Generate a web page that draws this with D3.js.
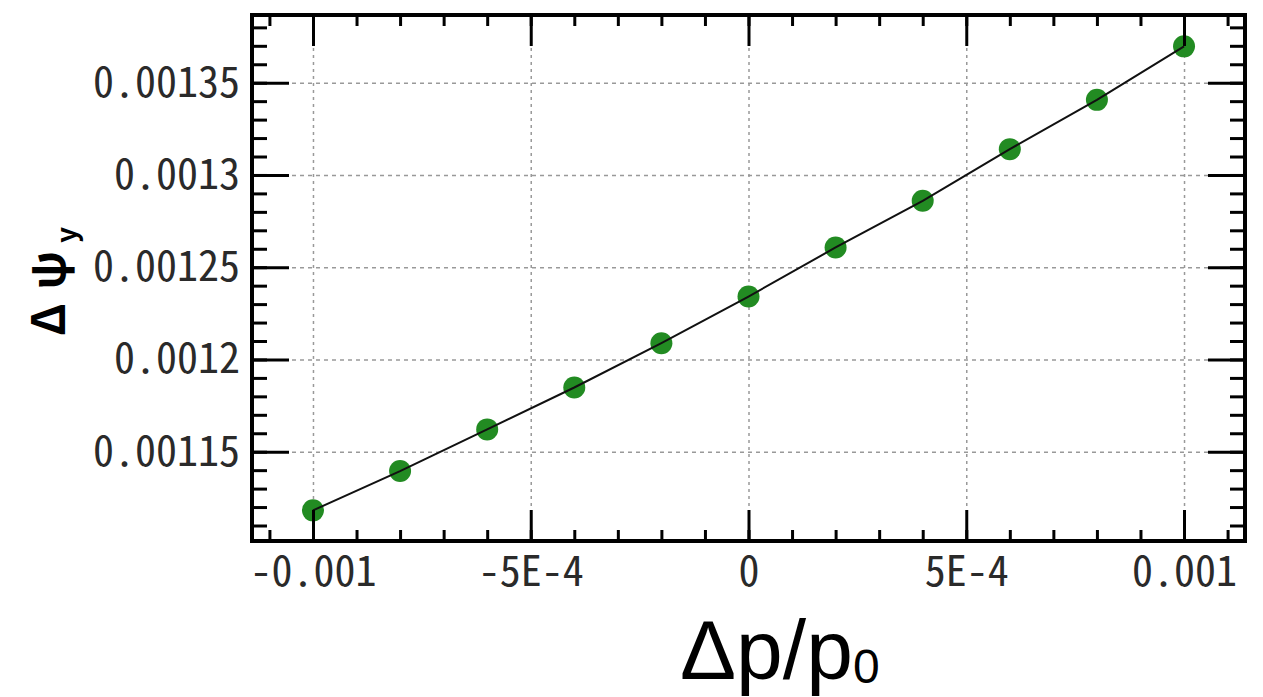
<!DOCTYPE html>
<html>
<head>
<meta charset="utf-8">
<script src="https://cdn.jsdelivr.net/npm/d3@7"></script>
<style>
    body { margin: 0; background: #fff; }
    .lbl text { font-family: "Noto Sans CJK JP"; font-feature-settings: "hwid"; fill: #2a2a2a; }
</style>
</head>
<body>
<svg id="chart" width="1263" height="697"></svg>
<script>
//data
const dpValues = [-0.001, -0.0008, -0.0006, -0.0004, -0.0002, 0, 0.0002, 0.0004, 0.0006, 0.0008, 0.001];
const psiValues = [0.0011182, 0.0011395, 0.0011621, 0.0011848, 0.0012088, 0.0012341,
                   0.0012607, 0.0012860, 0.0013140, 0.0013407, 0.0013697];

//axes
const xDomain = [-0.00114, 0.00114];
const yDomain = [0.0011016, 0.0013867];
const xMajor = [-0.001, -0.0005, 0, 0.0005, 0.001];
const xTickLabels = ["-0.001", "-5E-4", "0", "5E-4", "0.001"];
const xMinor = d3.range(-11, 12).map(d => d * 0.0001);
const yMajor = [0.00115, 0.0012, 0.00125, 0.0013, 0.00135];
const yTickLabels = ["0.00115", "0.0012", "0.00125", "0.0013", "0.00135"];
const yMinor = d3.range(111, 139).map(d => d * 0.00001);

const frame = {left: 252, top: 15, right: 1245, bottom: 541};
const svg = d3.select("#chart");

const x = d3.scaleLinear().domain(xDomain).range([frame.left, frame.right]);
const y = d3.scaleLinear().domain(yDomain).range([frame.bottom, frame.top]);
const plotW = frame.right - frame.left;
const plotH = frame.bottom - frame.top;

//grid
svg.append("g")
    .attr("transform", `translate(0,${frame.bottom})`)
    .call(d3.axisBottom(x).tickValues(xMajor).tickSize(-plotH).tickFormat(""))
    .call(g => g.select(".domain").remove())
    .call(g => g.selectAll("line").attr("stroke", "#999").attr("stroke-width", 1.5).attr("stroke-dasharray", "3,4"));
svg.append("g")
    .attr("transform", `translate(${frame.left},0)`)
    .call(d3.axisLeft(y).tickValues(yMajor).tickSize(-plotW).tickFormat(""))
    .call(g => g.select(".domain").remove())
    .call(g => g.selectAll("line").attr("stroke", "#999").attr("stroke-width", 1.5).attr("stroke-dasharray", "4,4"));

//points + line
const pts = dpValues.map((d, i) => [d, psiValues[i]]);
svg.append("g")
    .selectAll("circle")
    .data(pts).enter()
    .append("circle")
      .attr("cx", d => x(d[0]))
      .attr("cy", d => y(d[1]))
      .attr("r", 11)
      .attr("fill", "#228b22");
svg.append("path")
    .datum(pts)
    .attr("fill", "none")
    .attr("stroke", "#111")
    .attr("stroke-width", 2)
    .attr("d", d3.line().x(d => x(d[0])).y(d => y(d[1])));

//ticks, all pointing inward
function ticks(axis, tx, ty, vals, len) {
    svg.append("g")
        .attr("transform", `translate(${tx},${ty})`)
        .call(axis.tickValues(vals).tickSize(-len).tickFormat(""))
        .call(g => g.select(".domain").remove())
        .call(g => g.selectAll("line").attr("stroke", "#000").attr("stroke-width", 3));
}
ticks(d3.axisBottom(x), 0, frame.bottom, xMinor, 11);
ticks(d3.axisBottom(x), 0, frame.bottom, xMajor, 31);
ticks(d3.axisTop(x), 0, frame.top, xMinor, 11);
ticks(d3.axisTop(x), 0, frame.top, xMajor, 31);
ticks(d3.axisLeft(y), frame.left, 0, yMinor, 15);
ticks(d3.axisLeft(y), frame.left, 0, yMajor, 37);
ticks(d3.axisRight(y), frame.right, 0, yMinor, 15);
ticks(d3.axisRight(y), frame.right, 0, yMajor, 37);

svg.append("rect")
    .attr("x", frame.left).attr("y", frame.top)
    .attr("width", plotW).attr("height", plotH)
    .attr("fill", "none").attr("stroke", "#000").attr("stroke-width", 4);

//tick labels
svg.append("g")
    .attr("class", "lbl")
    .attr("transform", `translate(0,${frame.bottom})`)
    .call(d3.axisBottom(x).tickValues(xMajor).tickSize(0).tickPadding(15)
        .tickFormat((d, i) => xTickLabels[i]))
    .call(g => g.select(".domain").remove())
    .attr("font-size", 42);
svg.append("g")
    .attr("class", "lbl")
    .attr("transform", `translate(${frame.left},0)`)
    .call(d3.axisLeft(y).tickValues(yMajor).tickSize(0).tickPadding(12)
        .tickFormat((d, i) => yTickLabels[i]))
    .call(g => g.select(".domain").remove())
    .attr("font-size", 42);

//axis titles
const xTitle = svg.append("text")
    .attr("x", 680).attr("y", 679)
    .attr("font-family", "Liberation Sans, Arial, sans-serif")
    .attr("font-size", 84)
    .attr("fill", "#000");
xTitle.append("tspan").text("Δp/p");
xTitle.append("tspan").attr("font-size", 48).attr("dy", 4).text("0");

const yTitle = svg.append("text")
    .attr("transform", "translate(65,336) rotate(-90)")
    .attr("font-family", "Noto Sans CJK JP")
    .attr("font-weight", "bold")
    .attr("font-size", 46)
    .attr("fill", "#000");
yTitle.append("tspan").text("Δ");
yTitle.append("tspan").attr("dx", 14).text("ψ");
yTitle.append("tspan").attr("font-size", 28).attr("dx", 8).attr("dy", 12).text("y");
</script>
</body>
</html>
